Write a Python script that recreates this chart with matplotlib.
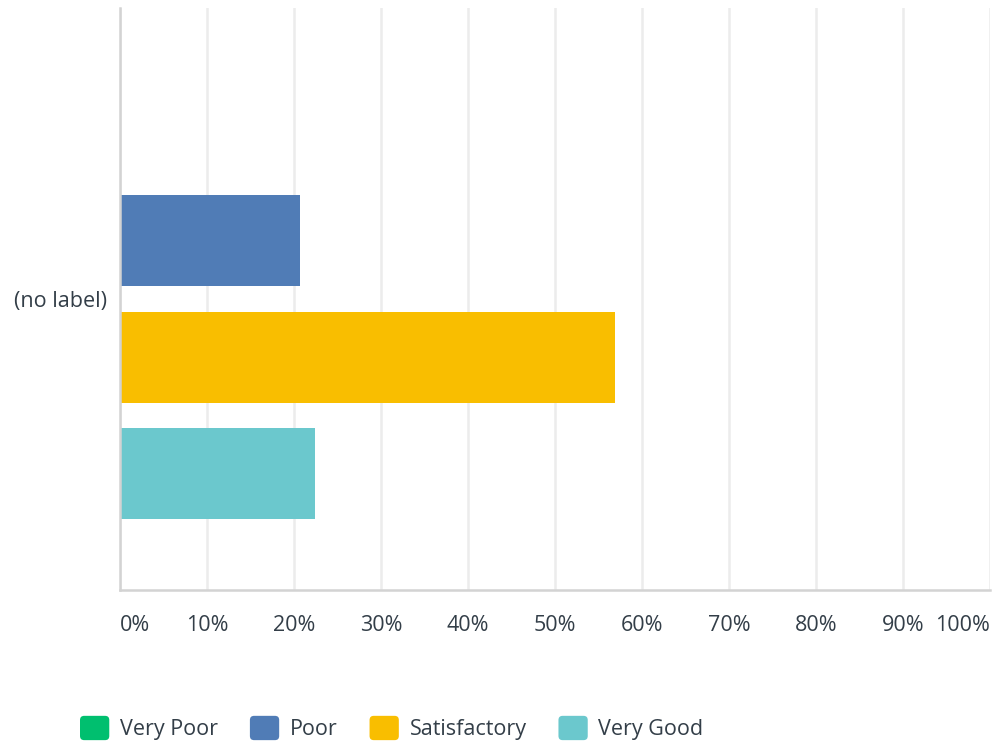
import matplotlib
matplotlib.use("Agg")
import matplotlib.pyplot as plt
from matplotlib.patches import FancyBboxPatch, Patch
from matplotlib.legend_handler import HandlerPatch

categories = ["(no label)"]
series_names = ["Very Poor", "Poor", "Satisfactory", "Very Good"]
series_values = [0.0, 20.69, 56.90, 22.41]   # percent
series_colors = ["#00bf6f", "#507cb6", "#f9be00", "#6bc8cd"]
tick_values = [0, 10, 20, 30, 40, 50, 60, 70, 80, 90, 100]
tick_labels = ["0%", "10%", "20%", "30%", "40%", "50%", "60%", "70%", "80%", "90%", "100%"]

TEXT = "#333e48"
FONT = ["Open Sans", "DejaVu Sans"]
FS = 15.5
plt.rcParams['font.family'] = FONT

fig = plt.figure(figsize=(9.94, 7.46), dpi=100)
ax = fig.add_axes([120/994, (746-590)/746, (990-120)/994, (590-8)/746])

n = len(series_names)
bar_h = 0.78
offsets = [(n - 1) / 2 - i for i in range(n)]  # top to bottom
for name, val, col, off in zip(series_names, series_values, series_colors, offsets):
    ax.barh(0 + off, val, height=bar_h, color=col, label=name, zorder=3)

ax.set_xlim(0, 100)
ax.set_ylim(-n / 2 - 0.5, n / 2 + 0.5)
ax.set_xticks(tick_values)
ax.set_xticklabels(tick_labels)
ax.set_yticks([0])
ax.set_yticklabels(categories)
ax.tick_params(axis='both', length=0, labelsize=FS, labelcolor=TEXT)
ax.tick_params(axis='x', pad=18)
ax.tick_params(axis='y', pad=9)
labels = ax.get_xticklabels()
labels[0].set_horizontalalignment('left')
labels[-1].set_horizontalalignment('right')

ax.grid(axis='x', color='#ececec', linewidth=1.8, zorder=0)
for s in ['top', 'right']:
    ax.spines[s].set_visible(False)
for s in ['left', 'bottom']:
    ax.spines[s].set_color('#d3d3d3')
    ax.spines[s].set_linewidth(1.8)
    ax.spines[s].set_zorder(4)


class RoundHandler(HandlerPatch):
    def create_artists(self, legend, orig_handle, xdescent, ydescent, width, height, fontsize, trans):
        p = FancyBboxPatch((-xdescent, -ydescent), width, height,
                           boxstyle="round,pad=0,rounding_size=3",
                           fc=orig_handle.get_facecolor(), ec='none', transform=trans)
        return [p]


handles = [Patch(facecolor=c) for c in series_colors]
leg = fig.legend(handles, series_names, loc='center left',
                 bbox_to_anchor=(80/994, (746-728)/746), ncol=4, frameon=False,
                 fontsize=FS, handlelength=1.36, handleheight=1.36,
                 handletextpad=0.5, columnspacing=1.48, borderaxespad=0, borderpad=0,
                 handler_map={Patch: RoundHandler()})
for t in leg.get_texts():
    t.set_color(TEXT)

fig.savefig("out.png", dpi=100)
